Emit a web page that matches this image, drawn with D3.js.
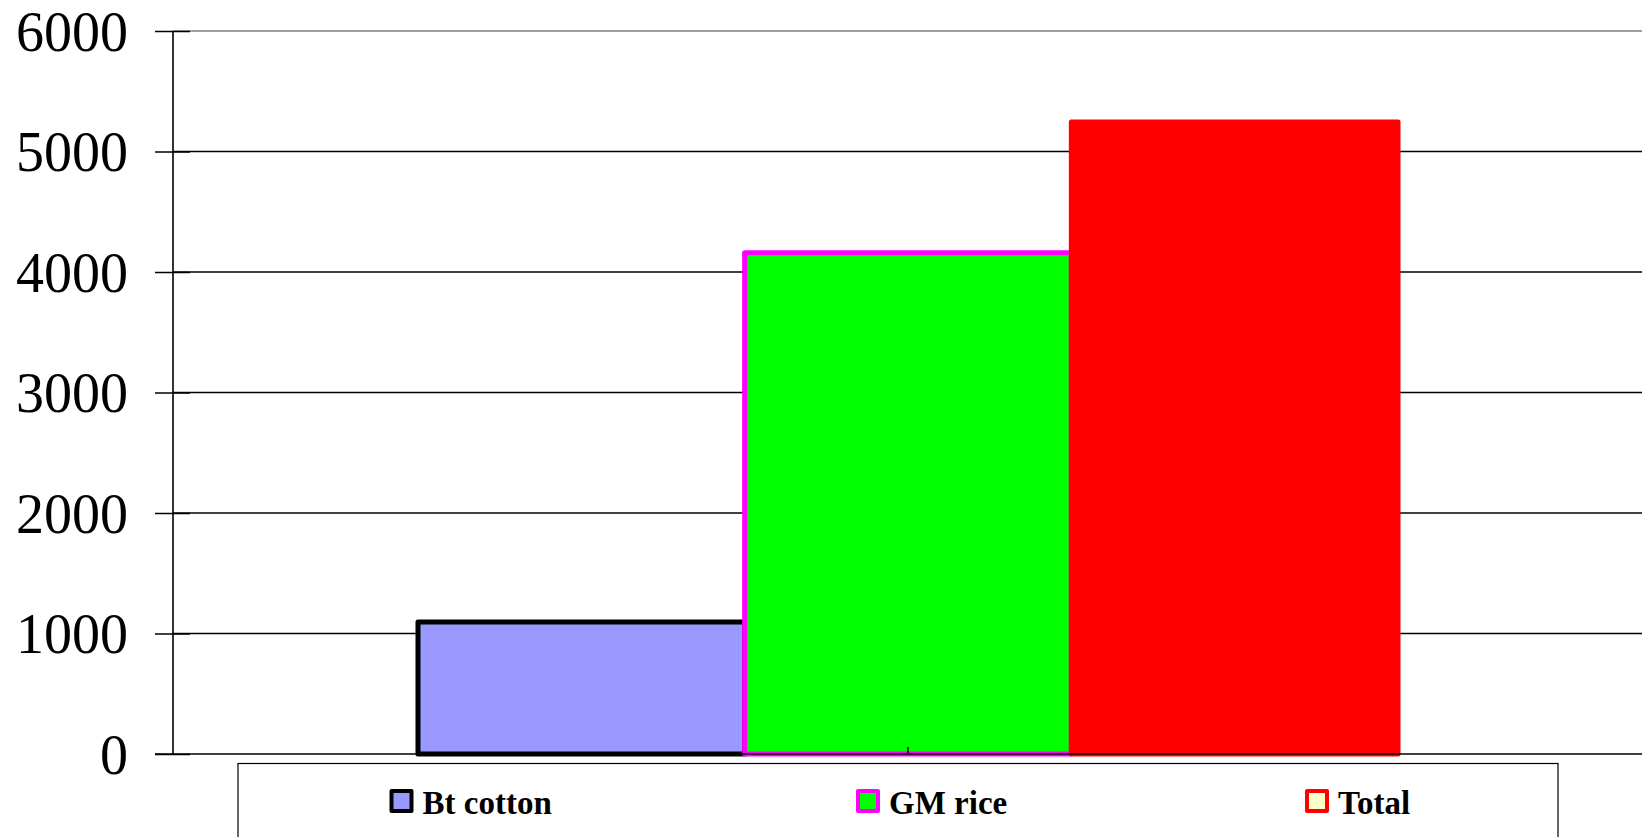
<!DOCTYPE html>
<html>
<head>
<meta charset="utf-8">
<script src="https://cdn.jsdelivr.net/npm/d3@7"></script>
<style>
  html, body { margin: 0; padding: 0; background: #fff; }
  svg { display: block; }
</style>
</head>
<body>
<script>
// ---- data ----
const categories = [""];
const seriesNames = ["Bt cotton", "GM rice", "Total"];
const seriesValues = [1095, 4160, 5245];
const yTicks = [0, 1000, 2000, 3000, 4000, 5000, 6000];
const seriesFill = ["#9999FF", "#00FF00", "#FF0000"];
const seriesStroke = ["#000000", "#FF00FF", "#FF0000"];
const legendFill = ["#9999FF", "#00FF00", "#FFFFCC"];

// ---- layout ----
const W = 1642, H = 837;
const plot = { left: 173, right: 1643, top: 31, bottom: 754 };

const svg = d3.select("body").append("svg").attr("width", W).attr("height", H);

const y = d3.scaleLinear().domain([0, 6000]).range([plot.bottom, plot.top]);
const x0 = d3.scaleBand().domain(categories).range([plot.left, plot.right]).paddingInner(0).paddingOuter(0.25);
const x1 = d3.scaleBand().domain(seriesNames).range([0, x0.bandwidth()]).padding(0);

// gridlines
svg.append("g").selectAll("line").data(yTicks.filter(d => d > 0)).join("line")
  .attr("x1", plot.left).attr("x2", W)
  .attr("y1", d => y(d)).attr("y2", d => y(d))
  .attr("stroke", d => d === 6000 ? "#808080" : "#000")
  .attr("stroke-width", 1.3);

// bars
const rows = seriesNames.map((s, i) => ({ name: s, value: seriesValues[i], i }));
svg.append("g").selectAll("rect").data(rows).join("rect")
  .attr("x", d => x0(categories[0]) + x1(d.name))
  .attr("y", d => y(d.value))
  .attr("width", x1.bandwidth())
  .attr("height", d => y(0) - y(d.value))
  .attr("fill", d => seriesFill[d.i])
  .attr("stroke", d => seriesStroke[d.i])
  .attr("stroke-width", 5)
  .attr("stroke-linejoin", "round");

// y axis
const yAxis = d3.axisLeft(y).tickValues(yTicks).tickSize(0).tickPadding(0).tickFormat(d3.format("d"));
const gy = svg.append("g").attr("transform", `translate(${plot.left},0)`).call(yAxis);
gy.select(".domain").remove();
gy.selectAll(".tick text")
  .attr("x", 128 - plot.left)
  .attr("dy", "0.34em")
  .attr("text-anchor", "end")
  .style("font-family", "'Liberation Serif', 'Times New Roman', serif")
  .style("font-size", "56px")
  .attr("fill", "#000");
gy.selectAll(".tick").append("line")
  .attr("x1", 155 - plot.left).attr("x2", 190 - plot.left)
  .attr("stroke", "#000").attr("stroke-width", 1.5);
svg.append("line")
  .attr("x1", plot.left).attr("x2", plot.left)
  .attr("y1", plot.top).attr("y2", plot.bottom)
  .attr("stroke", "#000").attr("stroke-width", 1.6);

// x axis
svg.append("line")
  .attr("x1", 155).attr("x2", W)
  .attr("y1", y(0)).attr("y2", y(0))
  .attr("stroke", "#000").attr("stroke-width", 1.5);
const xAxis = d3.axisBottom(x0).tickSize(-7).tickFormat("");
const gx = svg.append("g").attr("transform", `translate(0,${y(0)})`).call(xAxis);
gx.select(".domain").remove();
gx.selectAll(".tick line").attr("stroke", "#000").attr("stroke-width", 1.5);

// legend
const legend = svg.append("g");
legend.append("rect")
  .attr("x", 238).attr("y", 763.5).attr("width", 1320).attr("height", 120)
  .attr("fill", "#fff").attr("stroke", "#000").attr("stroke-width", 1.2);
const legendX = [391.5, 858, 1307];
const li = legend.selectAll("g.item").data(seriesNames).join("g")
  .attr("class", "item")
  .attr("transform", (d, i) => `translate(${legendX[i]},791)`);
li.append("rect")
  .attr("width", 20).attr("height", 20)
  .attr("fill", (d, i) => legendFill[i])
  .attr("stroke", (d, i) => seriesStroke[i])
  .attr("stroke-width", 4)
  .attr("stroke-linejoin", "round");
li.append("text")
  .attr("x", 31).attr("y", 23)
  .style("font-family", "'Liberation Serif', 'Times New Roman', serif")
  .style("font-size", "33px")
  .style("font-weight", "bold")
  .attr("fill", "#000")
  .text(d => d);
</script>
</body>
</html>
